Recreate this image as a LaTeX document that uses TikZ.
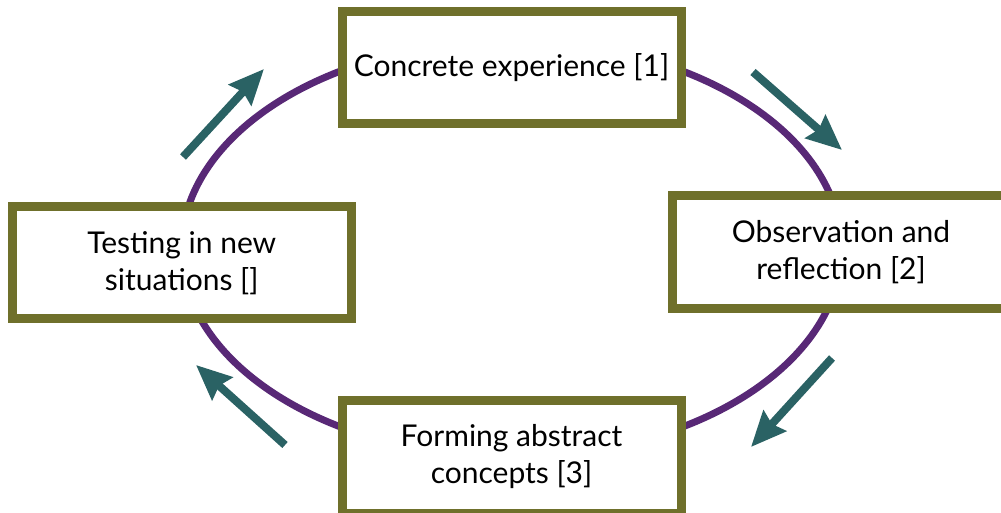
\documentclass[tikz,border=0pt]{standalone}
\usepackage{fontspec}
\setmainfont{Lato}
\usetikzlibrary{arrows.meta}
\definecolor{olivebd}{RGB}{111,112,43}
\definecolor{cyclepurple}{RGB}{88,40,118}
\definecolor{tealarrow}{RGB}{42,98,100}
\tikzset{
  stagebox/.style={draw=olivebd, line width=9pt, fill=white, inner sep=0pt, outer sep=0pt,
    align=center, font=\fontsize{30}{37}\selectfont, text=black},
  flowarrow/.style={draw=tealarrow, line width=8pt,
    -{Triangle[length=35pt, width=30pt, inset=4pt]}},
}
\begin{document}
\begin{tikzpicture}[x=1pt,y=1pt]
\useasboundingbox (0,0) rectangle (1001,513);
\clip (0,0) rectangle (1001,513);
\fill[white] (0,0) rectangle (1001,513);
\draw[cyclepurple, line width=7pt] (511.5,264) ellipse [x radius=330, y radius=208];
\node[stagebox, minimum width=339pt, minimum height=112pt] (ce) at (511.5,445) {Concrete experience [1]};
\node[stagebox, minimum width=337pt, minimum height=113pt] (or) at (841,260.5) {Observation and\\reflection [2]};
\node[stagebox, minimum width=339pt, minimum height=113pt] (fa) at (511.5,56) {Forming abstract\\concepts [3]};
\node[stagebox, minimum width=338.5pt, minimum height=112.5pt] (tn) at (181.75,250.25) {Testing in new\\situations []};
\coordinate (a1s) at (183,356);
\coordinate (a1e) at (264,444);
\coordinate (a2s) at (753,441);
\coordinate (a2e) at (842,363);
\coordinate (a3s) at (832,155);
\coordinate (a3e) at (751,66);
\coordinate (a4s) at (285,68);
\coordinate (a4e) at (196,148);
\draw[flowarrow] (a1s) -- (a1e);
\draw[flowarrow] (a2s) -- (a2e);
\draw[flowarrow] (a3s) -- (a3e);
\draw[flowarrow] (a4s) -- (a4e);
\end{tikzpicture}
\end{document}
